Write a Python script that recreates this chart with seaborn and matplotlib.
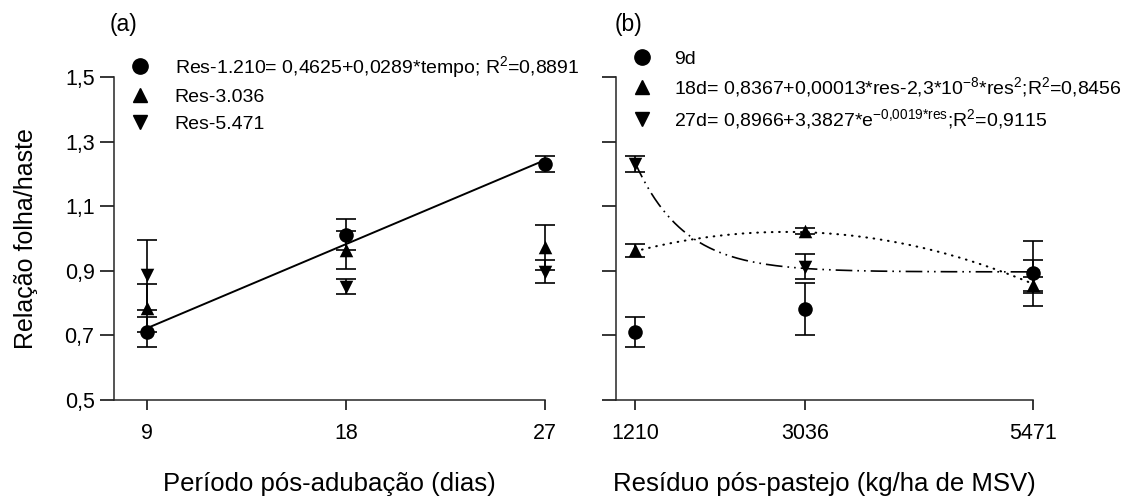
import numpy as np
import pandas as pd
import matplotlib
matplotlib.use('Agg')
import matplotlib.pyplot as plt
from matplotlib.lines import Line2D
import seaborn as sns

# (a) ratio vs days after fertilisation, one series per residue level
tempo = [9, 18, 27]
res1210 = [0.711, 1.011, 1.231]
res1210_ep = [0.047, 0.048, 0.024]
res3036 = [0.785, 0.964, 0.973]
res3036_ep = [0.074, 0.059, 0.070]
res5471 = [0.887, 0.851, 0.897]
res5471_ep = [0.107, 0.024, 0.035]

# (b) ratio vs post-grazing residue, one series per period
residuo = [1210, 3036, 5471]
d9 = [0.711, 0.781, 0.892]
d9_ep = [0.047, 0.080, 0.101]
d18 = [0.964, 1.023, 0.856]
d18_ep = [0.020, 0.008, 0.026]
d27 = [1.230, 0.913, 0.885]
d27_ep = [0.024, 0.039, 0.048]

yticks = [0.5, 0.7, 0.9, 1.1, 1.3, 1.5]
ytick_labels = ['0,5', '0,7', '0,9', '1,1', '1,3', '1,5']

# fitted equations shown in the legends
lin_a, lin_b = 0.4625, 0.0289
q_a, q_b, q_c = 0.8367, 0.00013, -2.3e-8
e_a, e_b, e_c = 0.8966, 3.3827, -0.0019

labels_a = ['Res-1.210= 0,4625+0,0289*tempo; R$^2$=0,8891', 'Res-3.036', 'Res-5.471']
labels_b = ['9d',
            '18d= 0,8367+0,00013*res-2,3*10$^{-8}$*res$^2$;R$^2$=0,8456',
            '27d= 0,8966+3,3827*e$^{-0{,}0019{*}res}$;R$^2$=0,9115']

sns.set_theme(style='ticks')
plt.rcParams['font.family'] = ['Liberation Sans', 'DejaVu Sans']
plt.rcParams['mathtext.default'] = 'regular'
plt.rcParams['axes.linewidth'] = 1.1
plt.rcParams['text.color'] = 'black'
plt.rcParams['axes.labelcolor'] = 'black'

FS_LEG = 14
FS_TICK = 15.5
FS_LAB = 18.5
markers = ['o', '^', 'v']
msizes = [110, 95, 95]

fig = plt.figure(figsize=(11.3, 5), dpi=100)
ax1 = fig.add_axes([0.1009, 0.2, 0.3814, 0.646])
ax2 = fig.add_axes([0.5451, 0.2, 0.369, 0.646])


def draw_points(ax, x, series, errs, names):
    df = pd.concat([pd.DataFrame({'x': x, 'y': s, 'ep': e, 'serie': n})
                    for s, e, n in zip(series, errs, names)])
    for (name, g), m, sz in zip(df.groupby('serie', sort=False), markers, msizes):
        ax.errorbar(g['x'], g['y'], yerr=g['ep'], fmt='none', ecolor='black',
                    elinewidth=1.2, capsize=7.5, capthick=1.2, clip_on=False, zorder=3)
        sns.scatterplot(data=g, x='x', y='y', marker=m, s=sz, color='black',
                        edgecolor='black', linewidth=0, ax=ax, legend=False,
                        clip_on=False, zorder=4)


# panel (a)
t = np.linspace(tempo[0], tempo[-1], 50)
sns.lineplot(x=t, y=lin_a + lin_b * t, ax=ax1, color='black', lw=1.4)
draw_points(ax1, tempo, [res1210, res3036, res5471],
            [res1210_ep, res3036_ep, res5471_ep], labels_a)

# panel (b)
r = np.linspace(residuo[0], residuo[-1], 300)
ax2.plot(r, q_a + q_b * r + q_c * r ** 2, color='black', lw=1.5,
         linestyle=(0, (0.3, 3.2)), dash_capstyle='round')
ax2.plot(r, e_a + e_b * np.exp(e_c * r), color='black', lw=1.2,
         linestyle=(0, (10, 3, 1, 3, 1, 3)))
draw_points(ax2, residuo, [d9, d18, d27], [d9_ep, d18_ep, d27_ep], labels_b)

ax1.set_xlim(7.5, 27)
ax2.set_xlim(1007, 5471)
ax1.set_xticks(tempo)
ax1.set_xticklabels([str(v) for v in tempo])
ax2.set_xticks(residuo)
ax2.set_xticklabels([str(v) for v in residuo])

for ax in (ax1, ax2):
    ax.set_ylim(0.5, 1.5)
    ax.set_yticks(yticks)
    sns.despine(ax=ax)
    ax.tick_params(axis='both', direction='out', width=1.1,
                   labelsize=FS_TICK, colors='black')
    ax.tick_params(axis='x', length=7.5, pad=9)
    ax.tick_params(axis='y', length=10, pad=4)
    ax.set_ylabel('')

ax1.set_yticklabels(ytick_labels)
ax2.set_yticklabels([])

ax1.set_xlabel('Período pós-adubação (dias)', fontsize=FS_LAB, labelpad=20)
ax2.set_xlabel('Resíduo pós-pastejo (kg/ha de MSV)', fontsize=FS_LAB, labelpad=20)
ax1.set_ylabel('Relação folha/haste', fontsize=FS_LAB - 0.5, labelpad=19)

fig.text(110 / 1130, 1 - 25 / 500, '(a)', fontsize=16.5, va='center', ha='left')
fig.text(615 / 1130, 1 - 25 / 500, '(b)', fontsize=16.5, va='center', ha='left')


def legend_handles():
    return [Line2D([], [], marker=m, ls='none', color='black', ms=ms)
            for m, ms in zip(markers, [11, 10, 10])]


ax1.legend(legend_handles(), labels_a, loc='upper left',
           bbox_to_anchor=(130 / 1130, 1 - 54 / 500), bbox_transform=fig.transFigure,
           frameon=False, fontsize=FS_LEG, borderpad=0, borderaxespad=0,
           handlelength=1.0, handletextpad=1.3, labelspacing=0.45)
ax2.legend(legend_handles(), labels_b, loc='upper left',
           bbox_to_anchor=(632 / 1130, 1 - 50 / 500), bbox_transform=fig.transFigure,
           frameon=False, fontsize=FS_LEG, borderpad=0, borderaxespad=0,
           handlelength=1.0, handletextpad=1.15, labelspacing=0.4)

fig.savefig('out.png', dpi=100)
